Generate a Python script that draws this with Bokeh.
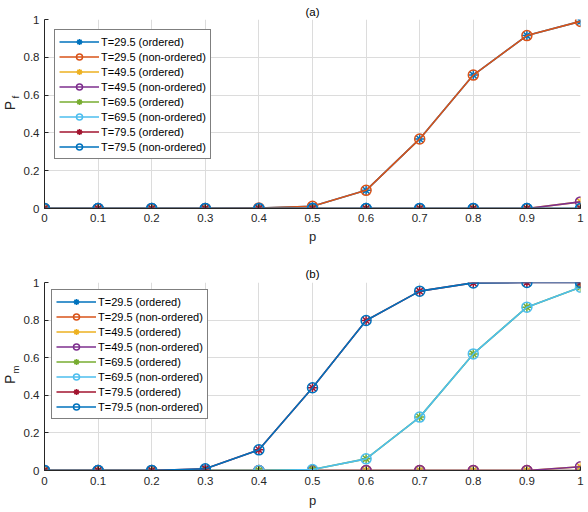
import math
from bokeh.plotting import figure
from bokeh.layouts import column, row
from bokeh.models import FixedTicker, CustomJSTickFormatter, Range1d, Label
from bokeh.embed import file_html
from bokeh.resources import INLINE

# x values (probability p)
p_vals = [0.0, 0.1, 0.2, 0.3, 0.4, 0.5, 0.6, 0.7, 0.8, 0.9, 1.0]

series_names = ["T=29.5 (ordered)", "T=29.5 (non-ordered)",
                "T=49.5 (ordered)", "T=49.5 (non-ordered)",
                "T=69.5 (ordered)", "T=69.5 (non-ordered)",
                "T=79.5 (ordered)", "T=79.5 (non-ordered)"]
series_colors = ["#0072BD", "#D95319", "#EDB120", "#7E2F8E",
                 "#77AC30", "#4DBEEE", "#A2142F", "#0072BD"]
series_markers = ["asterisk", "circle"] * 4

# (a) P_f
pf_29_ord = [0, 0, 0, 0, 0.003, 0.012, 0.096, 0.368, 0.706, 0.915, 0.99]
pf_29_non = [0, 0, 0, 0, 0.003, 0.012, 0.096, 0.368, 0.706, 0.915, 0.99]
pf_49_ord = [0, 0, 0, 0, 0, 0, 0, 0, 0, 0, 0.035]
pf_49_non = [0, 0, 0, 0, 0, 0, 0, 0, 0, 0, 0.035]
pf_69_ord = [0, 0, 0, 0, 0, 0, 0, 0, 0, 0, 0]
pf_69_non = [0, 0, 0, 0, 0, 0, 0, 0, 0, 0, 0]
pf_79_ord = [0, 0, 0, 0, 0, 0, 0, 0, 0, 0, 0]
pf_79_non = [0, 0, 0, 0, 0, 0, 0, 0, 0, 0, 0]

# (b) P_m
pm_29_ord = [0, 0, 0, 0, 0, 0, 0, 0, 0, 0, 0]
pm_29_non = [0, 0, 0, 0, 0, 0, 0, 0, 0, 0, 0]
pm_49_ord = [0, 0, 0, 0, 0, 0, 0, 0, 0, 0, 0.02]
pm_49_non = [0, 0, 0, 0, 0, 0, 0, 0, 0, 0, 0.02]
pm_69_ord = [0, 0, 0, 0, 0, 0.005, 0.062, 0.284, 0.62, 0.869, 0.975]
pm_69_non = [0, 0, 0, 0, 0, 0.005, 0.062, 0.284, 0.62, 0.869, 0.975]
pm_79_ord = [0, 0, 0, 0.009, 0.11, 0.44, 0.798, 0.954, 0.998, 1.0, 1.0]
pm_79_non = [0, 0, 0, 0.009, 0.11, 0.44, 0.798, 0.954, 0.998, 1.0, 1.0]

x_ticks = [0.0, 0.1, 0.2, 0.3, 0.4, 0.5, 0.6, 0.7, 0.8, 0.9, 1.0]
y_ticks = [0.0, 0.2, 0.4, 0.6, 0.8, 1.0]

FONT = "Liberation Sans"
DARK = "#262626"
LAB_W = 20


def make_ylabel(height, sub, p_y, sub_y):
    # narrow strip holding the rotated "P" with its subscript
    f = figure(width=LAB_W, height=height, x_range=Range1d(0, LAB_W),
               y_range=Range1d(height, 0), output_backend="svg",
               toolbar_location=None, min_border=0)
    f.axis.visible = False
    f.grid.visible = False
    f.outline_line_color = None
    f.add_layout(Label(x=9, y=p_y, text="P", angle=math.pi / 2,
                       text_align="center", text_baseline="middle",
                       text_font=FONT, text_font_size="14px", text_color=DARK))
    f.add_layout(Label(x=15, y=sub_y, text=sub, angle=math.pi / 2,
                       text_align="center", text_baseline="middle",
                       text_font=FONT, text_font_size="9.5px", text_color=DARK))
    return f


def make_panel(title, data, height, top, bottom, title_gap,
               label_gap, axis_gap, leg_margin):
    p = figure(width=588 - LAB_W, height=height, title=title,
               x_range=Range1d(0, 1), y_range=Range1d(0, 1),
               output_backend="svg", toolbar_location=None,
               min_border_left=42 - LAB_W, min_border_right=8,
               min_border_top=top, min_border_bottom=bottom)
    p.title.align = "center"
    p.title.text_font = FONT
    p.title.text_font_size = "11.5px"
    p.title.text_font_style = "normal"
    p.title.text_color = "#000000"
    p.title.standoff = title_gap
    p.outline_line_color = None

    for vals, name, col, mk in zip(data, series_names, series_colors, series_markers):
        p.line(p_vals, vals, line_color=col, line_width=1.6, legend_label=name)
        p.scatter(p_vals, vals, marker=mk, size=10, line_color=col,
                  fill_color=None, line_width=1.5, legend_label=name)

    fmt = CustomJSTickFormatter(code="return String(Math.round(tick*10)/10)")
    p.xaxis.ticker = FixedTicker(ticks=x_ticks)
    p.yaxis.ticker = FixedTicker(ticks=y_ticks)
    p.xaxis.formatter = fmt
    p.yaxis.formatter = fmt
    p.xaxis.axis_label = "p"
    for ax in (p.xaxis, p.yaxis):
        ax.axis_line_color = DARK
        ax.major_tick_line_color = DARK
        ax.major_tick_in = 4
        ax.major_tick_out = 0
        ax.minor_tick_line_color = None
        ax.major_label_text_font = FONT
        ax.major_label_text_font_size = "11.5px"
        ax.major_label_text_color = DARK
        ax.axis_label_text_font = FONT
        ax.axis_label_text_font_size = "13px"
        ax.axis_label_text_font_style = "normal"
        ax.axis_label_text_color = DARK
    p.yaxis.major_label_standoff = 5
    p.xaxis.major_label_standoff = label_gap
    p.xaxis.axis_label_standoff = axis_gap
    p.grid.grid_line_color = "#dcdcdc"
    p.grid.grid_line_width = 1

    lg = p.legend[0]
    lg.location = "top_left"
    lg.margin = leg_margin
    lg.border_line_color = "#000000"
    lg.border_line_width = 1
    lg.background_fill_alpha = 1
    lg.label_text_font = FONT
    lg.label_text_font_size = "11px"
    lg.label_text_color = "#000000"
    lg.glyph_width = 40
    lg.glyph_height = 15
    lg.label_height = 15
    lg.label_standoff = 2
    lg.spacing = 0
    lg.padding = 4
    return p


top = make_panel("(a)",
                 [pf_29_ord, pf_29_non, pf_49_ord, pf_49_non,
                  pf_69_ord, pf_69_non, pf_79_ord, pf_79_non],
                 246, 19, 38, 4, 5, 4, 10)
bot = make_panel("(b)",
                 [pm_29_ord, pm_29_non, pm_49_ord, pm_49_non,
                  pm_69_ord, pm_69_non, pm_79_ord, pm_79_non],
                 266, 36, 42, 5, 6, 5, 7)

layout = column(row(make_ylabel(246, "f", 112, 101), top),
                row(make_ylabel(266, "m", 383 - 246, 369 - 246), bot))
open("out.html", "w").write(file_html(layout, INLINE))
